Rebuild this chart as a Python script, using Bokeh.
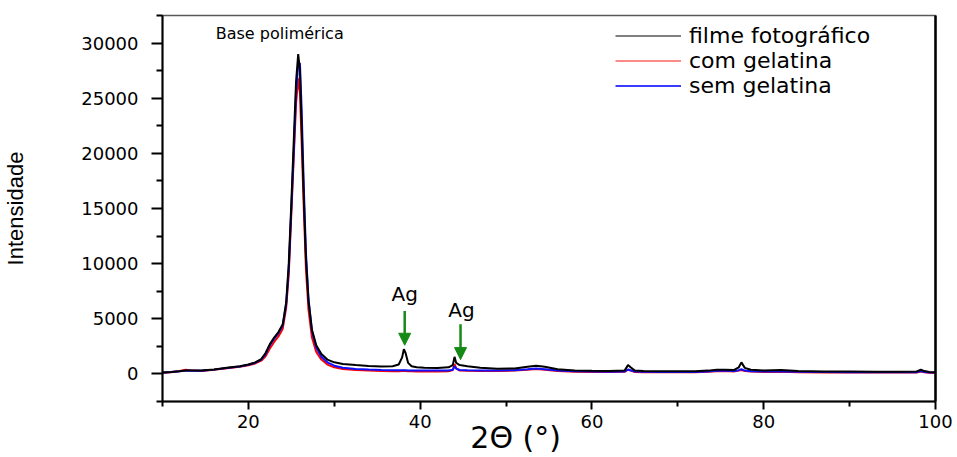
from bokeh.plotting import figure
from bokeh.models import (FixedTicker, LinearAxis, Legend, LegendItem, Label,
                          Arrow, NormalHead, Range1d, ColumnDataSource)
from bokeh.embed import file_html
from bokeh.resources import INLINE

# ---------------- data ----------------
two_theta = [10, 11, 12, 12.7, 13.5, 14.5, 16, 17.5, 19, 20, 20.8, 21.5, 22, 22.5, 23, 23.5,
             24, 24.4, 24.7, 25.0, 25.3, 25.55, 25.8, 26.0, 26.2, 26.45, 26.7, 27.0, 27.4,
             27.9, 28.5, 29.2, 30, 31, 32.5, 34, 35.5, 36.8, 37.5, 37.9, 38.1, 38.3, 38.6,
             39.0, 39.6, 40.5, 42, 43.3, 43.8, 44.0, 44.2, 44.6, 45.5, 47, 49, 51, 52.5,
             53.5, 54.5, 56, 58, 60, 62, 63.8, 64.2, 64.5, 65, 66, 68, 70, 72, 73.5, 74.5,
             75.5, 76.5, 77.1, 77.4, 77.8, 78.5, 80, 82, 84, 87, 90, 93, 96, 97.8, 98.3,
             98.7, 99.3, 100]

filme_fotografico = [120, 180, 250, 320, 300, 300, 400, 550, 700, 850, 1050, 1350, 1900, 2700,
                     3300, 3800, 4500, 6500, 10000, 15500, 21500, 26500, 29000, 27500, 22500,
                     16000, 10500, 6600, 4000, 2600, 1800, 1300, 1050, 900, 800, 720, 680, 700,
                     850, 1500, 2250, 1900, 1000, 700, 600, 560, 540, 600, 800, 1550, 1000, 800,
                     700, 550, 480, 500, 650, 750, 650, 420, 320, 280, 270, 300, 800, 600, 300,
                     260, 250, 240, 250, 300, 380, 380, 350, 600, 1050, 550, 380, 320, 350, 260,
                     230, 220, 200, 200, 220, 380, 260, 180, 150]

com_gelatina = [100, 160, 260, 380, 300, 270, 370, 520, 650, 780, 950, 1200, 1600, 2300, 2900,
                3400, 4100, 6000, 9000, 14500, 20000, 24500, 26800, 25500, 21000, 15000, 9500,
                5800, 3300, 2000, 1300, 850, 600, 450, 350, 300, 270, 250, 250, 260, 280, 270,
                250, 240, 230, 230, 230, 250, 350, 900, 500, 300, 280, 270, 260, 300, 380, 450,
                380, 260, 200, 180, 170, 190, 380, 300, 180, 160, 150, 150, 160, 200, 250, 260,
                230, 300, 350, 270, 220, 180, 200, 160, 140, 130, 120, 120, 130, 220, 150, 110,
                90]

sem_gelatina = [110, 170, 240, 300, 290, 290, 390, 540, 680, 830, 1020, 1300, 1800, 2600, 3200,
                3700, 4400, 6300, 9500, 15000, 20500, 25500, 28000, 28200, 24000, 17000, 11000,
                6800, 3900, 2400, 1550, 1050, 750, 560, 450, 400, 360, 340, 330, 330, 340, 335,
                320, 310, 300, 300, 300, 310, 380, 700, 480, 360, 340, 320, 310, 340, 430, 500,
                430, 310, 240, 210, 200, 220, 400, 330, 210, 190, 180, 175, 185, 230, 290, 290,
                260, 340, 420, 300, 250, 210, 230, 190, 170, 160, 150, 150, 160, 260, 180, 140,
                120]

series_names = ["filme fotográfico", "com gelatina", "sem gelatina"]
series_cols = ["filme", "com", "sem"]

x_major_ticks = [20, 40, 60, 80, 100]
x_minor_ticks = [10, 30, 50, 70, 90]
y_major_ticks = [0, 5000, 10000, 15000, 20000, 25000, 30000]
y_minor_ticks = [-2500, 2500, 7500, 12500, 17500, 22500, 27500, 32500]

# Ag peak annotations: label position and arrow start / end
ag_label_x = [38.2, 44.8]
ag_label_y = [7250, 5800]
ag_arrow_x = [38.2, 44.7]
ag_arrow_top = [5700, 4500]
ag_arrow_bottom = [2600, 1300]

base_label_x = 16.2
base_label_y = 30900

# ---------------- figure ----------------
p = figure(width=955, height=457, output_backend="svg", toolbar_location=None,
           x_range=Range1d(10, 100), y_range=Range1d(-2500, 32500),
           min_border_left=159, min_border_right=20, min_border_top=15,
           min_border_bottom=56)
p.background_fill_color = "white"
p.border_fill_color = "white"
p.grid.visible = False
p.outline_line_color = "#5a5a5a"
p.outline_line_width = 1.5

src = ColumnDataSource(dict(x=two_theta, filme=filme_fotografico,
                            com=com_gelatina, sem=sem_gelatina))
p.line("x", "com", source=src, line_color="#ff0000", line_width=2)
p.line("x", "sem", source=src, line_color="#1010ff", line_width=2)
p.line("x", "filme", source=src, line_color="#000000", line_width=2)

# legend with its own (lighter) swatches, as in the picture (hidden twins of the series)
leg_colors = ["#808080", "#ff8a8a", "#3c3cff"]
leg_items = []
for name, col, c in zip(series_names, series_cols, leg_colors):
    r = p.line("x", col, source=src, line_color=c, line_width=2, visible=False)
    leg_items.append(LegendItem(label=name, renderers=[r]))
legend = Legend(items=leg_items, location=(453, 303), padding=0, margin=0,
                border_line_color=None, background_fill_alpha=0,
                glyph_width=66, glyph_height=21, label_height=21, spacing=0,
                label_standoff=8, label_text_font="DejaVu Sans",
                label_text_font_size="22px", label_text_color="black",
                label_text_baseline="middle", click_policy="none")
p.add_layout(legend)

# axes
xa = p.xaxis[0]
xa.ticker = FixedTicker(ticks=x_major_ticks, minor_ticks=x_minor_ticks)
xa.axis_line_width = 2
xa.major_tick_line_width = 2
xa.minor_tick_line_width = 2
xa.major_tick_in = 0
xa.major_tick_out = 8
xa.minor_tick_in = 0
xa.minor_tick_out = 5
xa.major_label_standoff = 5
xa.major_label_text_font = "DejaVu Sans"
xa.major_label_text_font_size = "18px"
xa.major_label_text_color = "black"
# trailing no-break spaces shift the centred title left, as in the picture
xa.axis_label = "2Θ (°)" + "\u00a0" * 7
xa.axis_label_text_font = "DejaVu Sans"
xa.axis_label_text_font_size = "30px"
xa.axis_label_text_font_style = "normal"
xa.axis_label_text_color = "black"
xa.axis_label_standoff = -11

ya = p.yaxis[0]
ya.ticker = FixedTicker(ticks=y_major_ticks, minor_ticks=y_minor_ticks)
ya.axis_line_width = 2
ya.major_tick_line_width = 2
ya.minor_tick_line_width = 2
ya.major_tick_in = 0
ya.major_tick_out = 11
ya.minor_tick_in = 0
ya.minor_tick_out = 6
ya.major_label_standoff = 13
ya.major_label_text_font = "DejaVu Sans"
ya.major_label_text_font_size = "18px"
ya.major_label_text_color = "black"
ya.axis_label = "Intensidade"
ya.axis_label_text_font = "Liberation Sans"
ya.axis_label_text_font_size = "22px"
ya.axis_label_text_font_style = "normal"
ya.axis_label_text_color = "black"
ya.axis_label_standoff = 50

ra = LinearAxis(ticker=FixedTicker(ticks=[]), major_label_text_font_size="0px",
                major_tick_line_color=None, minor_tick_line_color=None,
                axis_line_width=2.5, axis_line_color="black")
p.add_layout(ra, "right")

# annotations
p.add_layout(Label(x=base_label_x, y=base_label_y, text="Base polimérica",
                   text_font="DejaVu Sans", text_font_size="16px",
                   text_baseline="middle", text_align="left", text_color="black"))
for lx, ly in zip(ag_label_x, ag_label_y):
    p.add_layout(Label(x=lx, y=ly, text="Ag", text_font="DejaVu Sans",
                       text_font_size="20px", text_align="center",
                       text_baseline="middle", text_color="black"))
for ax_, t, b in zip(ag_arrow_x, ag_arrow_top, ag_arrow_bottom):
    p.add_layout(Arrow(x_start=ax_, y_start=t, x_end=ax_, y_end=b,
                       line_color="#168a16", line_width=2.5,
                       end=NormalHead(size=12, fill_color="#168a16",
                                      line_color="#168a16")))

open("out.html", "w").write(file_html(p, INLINE))
